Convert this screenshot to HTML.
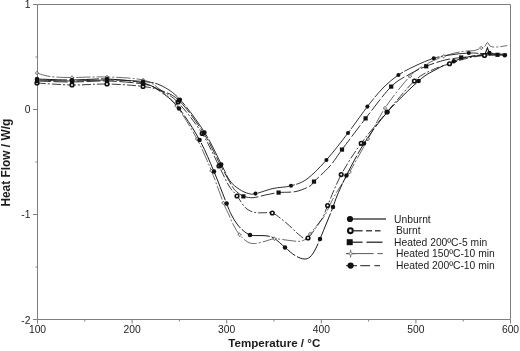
<!DOCTYPE html>
<html><head><meta charset="utf-8"><title>Heat Flow</title>
<style>
html,body{margin:0;padding:0;background:#fff;}
body{width:520px;height:351px;overflow:hidden;}
svg{display:block;font-family:"Liberation Sans",Arial,sans-serif;fill:#1c1c1c;}
</style></head><body>
<svg width="520" height="351" viewBox="0 0 520 351">
<rect width="520" height="351" fill="#fff"/>
<g>
<path d="M37.5,4.5H510.5V319.5H37.5Z" fill="none" stroke="#7f7f7f" stroke-width="1"/>
<path d="M37.5,319.5V323.5" stroke="#7f7f7f" stroke-width="1"/>
<path d="M132.1,319.5V323.5" stroke="#7f7f7f" stroke-width="1"/>
<path d="M226.7,319.5V323.5" stroke="#7f7f7f" stroke-width="1"/>
<path d="M321.3,319.5V323.5" stroke="#7f7f7f" stroke-width="1"/>
<path d="M415.9,319.5V323.5" stroke="#7f7f7f" stroke-width="1"/>
<path d="M510.5,319.5V323.5" stroke="#7f7f7f" stroke-width="1"/>
<path d="M84.8,319.5V321.5" stroke="#7f7f7f" stroke-width="1"/>
<path d="M179.4,319.5V321.5" stroke="#7f7f7f" stroke-width="1"/>
<path d="M274.0,319.5V321.5" stroke="#7f7f7f" stroke-width="1"/>
<path d="M368.6,319.5V321.5" stroke="#7f7f7f" stroke-width="1"/>
<path d="M463.2,319.5V321.5" stroke="#7f7f7f" stroke-width="1"/>
<path d="M33,4.5H37.5" stroke="#7f7f7f" stroke-width="1"/>
<path d="M33,109.5H37.5" stroke="#7f7f7f" stroke-width="1"/>
<path d="M33,214.5H37.5" stroke="#7f7f7f" stroke-width="1"/>
<path d="M33,319.5H37.5" stroke="#7f7f7f" stroke-width="1"/>
<path d="M35.5,57.0H37.5" stroke="#7f7f7f" stroke-width="1"/>
<path d="M35.5,162.0H37.5" stroke="#7f7f7f" stroke-width="1"/>
<path d="M35.5,267.0H37.5" stroke="#7f7f7f" stroke-width="1"/>
</g>
<g>
<path d="M37.0,73.0C38.3,73.4 42.0,74.8 45.0,75.5C48.0,76.2 50.5,76.7 55.0,77.0C59.5,77.3 63.3,77.5 72.0,77.5C80.7,77.5 95.2,76.6 107.0,77.0C118.8,77.4 134.2,77.9 143.0,80.0C151.8,82.1 154.4,85.2 160.0,89.5C165.6,93.8 170.3,97.8 176.5,106.0C182.7,114.2 191.2,128.2 197.0,139.0C202.8,149.8 207.1,160.3 211.5,171.0C215.9,181.7 220.6,195.7 223.5,203.0C226.4,210.3 227.2,211.2 229.0,215.0C230.8,218.8 232.2,222.7 234.0,226.0C235.8,229.3 237.2,232.0 239.5,234.7C241.8,237.4 245.0,240.5 247.7,242.0C250.3,243.5 252.3,243.7 255.4,243.5C258.4,243.3 262.8,241.8 266.0,241.0C269.2,240.2 270.8,238.9 274.6,238.8C278.4,238.7 284.9,240.0 289.0,240.4C293.1,240.8 296.2,241.6 299.0,241.4C301.8,241.2 304.2,240.2 306.0,239.0C307.8,237.8 308.0,236.5 310.0,234.0C312.0,231.5 315.5,227.2 318.0,224.0C320.5,220.8 322.2,219.8 325.0,215.0C327.8,210.2 330.9,202.2 335.0,195.0C339.1,187.8 344.1,181.3 349.6,172.0C355.1,162.7 362.1,149.7 368.0,139.0C373.9,128.3 378.0,118.5 385.0,108.0C392.0,97.5 403.3,83.4 410.0,76.2C416.7,69.1 419.4,68.3 425.0,65.0C430.6,61.7 437.6,58.5 443.8,56.2C449.9,54.0 457.0,52.4 462.0,51.5C467.0,50.6 470.7,51.1 473.8,50.6C476.9,50.1 479.0,49.0 480.8,48.3C482.6,47.6 483.7,47.5 484.8,46.5C485.9,45.5 486.5,42.6 487.4,42.5C488.3,42.4 488.6,45.2 490.0,46.0C491.4,46.8 492.9,47.2 495.8,47.1C498.7,47.0 505.4,45.9 507.3,45.6" fill="none" stroke="#1a1a1a" stroke-width="0.65" stroke-dasharray="14 2 2 2"/>
<path d="M37.0,83.0C42.8,83.3 60.3,84.8 72.0,85.0C83.7,85.2 95.2,83.8 107.0,84.0C118.8,84.2 134.0,85.3 143.0,86.5C152.0,87.7 155.2,88.3 161.0,91.0C166.8,93.7 171.1,95.4 178.0,102.5C184.9,109.6 195.4,122.9 202.2,133.5C209.0,144.1 214.5,157.2 219.0,166.0C223.5,174.8 226.0,181.0 229.0,186.0C232.0,191.0 234.3,192.2 237.0,195.8C239.7,199.4 242.5,204.9 245.4,207.7C248.3,210.5 251.7,211.6 254.6,212.4C257.5,213.2 260.1,212.7 263.0,212.8C265.9,212.9 269.3,212.1 272.3,213.0C275.3,213.9 278.0,216.4 280.8,218.5C283.6,220.6 286.5,223.1 289.2,225.5C291.9,227.9 294.6,230.9 297.0,233.0C299.4,235.1 301.7,237.2 303.5,238.0C305.3,238.8 306.1,239.5 308.0,238.0C309.9,236.5 312.5,232.5 315.0,229.0C317.5,225.5 320.9,220.9 323.0,217.0C325.1,213.1 324.6,212.7 327.6,205.6C330.6,198.5 335.6,185.0 341.2,174.6C346.8,164.2 353.6,153.7 361.2,143.3C368.8,132.9 378.1,122.4 387.0,112.0C395.9,101.6 406.9,88.0 414.4,81.0C421.9,74.0 426.1,72.9 432.0,70.0C437.9,67.1 443.5,65.8 449.5,63.8C455.5,61.8 462.2,59.4 468.0,58.0C473.8,56.6 480.0,56.0 484.5,55.5C489.0,55.0 491.2,55.1 495.0,55.0C498.8,54.9 505.0,55.0 507.0,55.0" fill="none" stroke="#1a1a1a" stroke-width="0.85" stroke-dasharray="9 2 2 2"/>
<path d="M37.0,81.0C42.8,81.2 60.3,82.0 72.0,82.0C83.7,82.0 95.2,80.7 107.0,81.0C118.8,81.3 134.2,82.5 143.0,84.0C151.8,85.5 154.0,87.2 160.0,90.0C166.0,92.8 171.7,93.3 179.0,100.5C186.3,107.7 196.7,122.2 203.6,133.0C210.5,143.8 215.7,156.2 220.4,165.0C225.1,173.8 229.2,181.5 232.0,186.0C234.8,190.5 235.1,190.3 237.0,192.0C238.9,193.7 240.7,195.2 243.4,196.2C246.1,197.1 249.3,197.9 253.0,197.7C256.7,197.5 261.1,195.8 265.4,195.0C269.7,194.2 273.5,193.2 278.6,192.6C283.7,192.0 290.8,192.6 296.0,191.5C301.2,190.4 307.0,187.7 310.0,186.0C313.0,184.3 310.7,184.9 314.0,181.6C317.3,178.3 325.3,171.3 330.0,166.0C334.7,160.7 336.1,157.5 342.0,149.6C347.9,141.7 357.4,128.9 365.6,118.4C373.8,107.9 383.8,94.0 391.2,86.6C398.6,79.2 404.2,77.4 410.0,74.0C415.8,70.6 420.4,68.6 426.2,66.2C432.1,63.9 439.0,61.5 445.0,60.0C451.0,58.5 456.2,58.2 462.0,57.5C467.8,56.8 474.1,56.0 480.0,55.5C485.9,55.0 493.0,54.9 497.5,54.8C502.0,54.7 505.4,54.8 507.0,54.8" fill="none" stroke="#1a1a1a" stroke-width="0.9" stroke-dasharray="14 2.5"/>
<path d="M37.0,79.0C42.8,79.2 60.3,80.0 72.0,80.0C83.7,80.0 95.2,78.5 107.0,79.0C118.8,79.5 134.0,80.8 143.0,83.0C152.0,85.2 155.0,87.8 161.0,92.0C167.0,96.2 172.6,100.4 179.0,108.4C185.4,116.4 193.8,129.5 199.6,140.0C205.4,150.5 209.5,161.0 214.0,171.6C218.5,182.2 223.7,196.4 226.6,203.6C229.5,210.8 229.8,211.6 231.5,215.0C233.2,218.4 235.1,221.4 237.0,224.0C238.9,226.6 240.8,228.6 243.0,230.4C245.2,232.2 247.5,234.1 250.0,235.0C252.5,235.9 255.3,235.5 258.0,235.6C260.7,235.7 263.4,235.4 266.0,235.8C268.6,236.2 270.6,236.1 273.8,238.0C277.0,239.9 281.5,244.5 285.0,247.4C288.5,250.3 291.8,253.6 295.0,255.5C298.2,257.4 301.5,258.8 304.0,259.0C306.5,259.2 308.2,258.5 310.0,257.0C311.8,255.5 313.3,253.0 315.0,250.0C316.7,247.0 318.0,243.7 320.0,239.0C322.0,234.3 324.8,227.3 327.0,222.0C329.2,216.7 331.3,211.5 333.0,207.0C334.7,202.5 335.2,200.2 337.4,195.0C339.6,189.8 342.0,184.2 346.4,175.6C350.8,167.0 357.2,154.2 364.0,143.6C370.8,133.0 378.3,122.4 387.4,112.0C396.5,101.6 410.7,88.0 418.6,81.0C426.5,74.0 429.1,73.3 435.0,70.0C440.9,66.7 447.9,63.5 453.8,61.2C459.6,59.0 465.6,57.5 470.0,56.5C474.4,55.5 476.8,55.6 480.0,55.0C483.2,54.4 486.6,53.1 489.4,53.0C492.2,52.9 494.4,54.1 497.0,54.5C499.6,54.9 503.5,55.1 504.8,55.2" fill="none" stroke="#1a1a1a" stroke-width="1" stroke-dasharray="30 2"/>
<path d="M37.0,80.0C42.8,80.2 60.3,81.0 72.0,81.0C83.7,81.0 95.2,79.9 107.0,80.0C118.8,80.1 134.0,80.6 143.0,81.5C152.0,82.4 154.8,82.5 161.0,85.5C167.2,88.5 172.7,91.7 180.0,99.5C187.3,107.3 197.7,121.6 204.6,132.4C211.5,143.2 217.2,156.3 221.4,164.4C225.6,172.5 227.0,176.9 230.0,181.0C233.0,185.1 236.1,187.1 239.2,189.2C242.3,191.3 245.8,192.8 248.5,193.5C251.2,194.2 251.4,194.5 255.5,193.7C259.6,192.9 267.1,189.8 273.0,188.5C278.9,187.2 285.3,187.4 291.0,185.8C296.7,184.2 301.1,183.3 307.0,179.0C312.9,174.7 319.6,167.7 326.4,160.0C333.2,152.3 341.2,141.9 348.0,133.0C354.8,124.1 361.6,114.1 367.4,106.6C373.2,99.1 377.8,93.3 383.0,88.0C388.2,82.7 393.1,78.7 398.4,75.0C403.7,71.3 409.1,68.8 415.0,66.0C420.9,63.2 427.9,60.1 433.8,58.2C439.6,56.4 444.2,55.9 450.0,55.0C455.8,54.1 462.1,53.2 468.8,53.0C475.4,52.8 483.6,53.8 490.0,54.0C496.4,54.2 504.2,54.0 507.0,54.0" fill="none" stroke="#1a1a1a" stroke-width="0.9" stroke-dasharray="38 1.5"/>
<path d="M484.8,54.8L487.4,47.7L489.4,52.9" fill="none" stroke="#1a1a1a" stroke-width="1.1"/>
<path d="M35.0,73.0L36.4,72.4L37.0,71.0L37.6,72.4L39.0,73.0L37.6,73.6L37.0,75.0L36.4,73.6Z" fill="#fff" stroke="#333" stroke-width="0.5"/>
<path d="M70.0,77.5L71.4,76.9L72.0,75.5L72.6,76.9L74.0,77.5L72.6,78.1L72.0,79.5L71.4,78.1Z" fill="#fff" stroke="#333" stroke-width="0.5"/>
<path d="M105.0,77.0L106.4,76.4L107.0,75.0L107.6,76.4L109.0,77.0L107.6,77.6L107.0,79.0L106.4,77.6Z" fill="#fff" stroke="#333" stroke-width="0.5"/>
<path d="M141.0,80.0L142.4,79.4L143.0,78.0L143.6,79.4L145.0,80.0L143.6,80.6L143.0,82.0L142.4,80.6Z" fill="#fff" stroke="#333" stroke-width="0.5"/>
<path d="M174.5,106.0L175.9,105.4L176.5,104.0L177.1,105.4L178.5,106.0L177.1,106.6L176.5,108.0L175.9,106.6Z" fill="#fff" stroke="#333" stroke-width="0.5"/>
<path d="M195.0,139.0L196.4,138.4L197.0,137.0L197.6,138.4L199.0,139.0L197.6,139.6L197.0,141.0L196.4,139.6Z" fill="#fff" stroke="#333" stroke-width="0.5"/>
<path d="M209.5,171.0L210.9,170.4L211.5,169.0L212.1,170.4L213.5,171.0L212.1,171.6L211.5,173.0L210.9,171.6Z" fill="#fff" stroke="#333" stroke-width="0.5"/>
<path d="M221.5,203.0L222.9,202.4L223.5,201.0L224.1,202.4L225.5,203.0L224.1,203.6L223.5,205.0L222.9,203.6Z" fill="#fff" stroke="#333" stroke-width="0.5"/>
<path d="M237.5,234.7L238.9,234.1L239.5,232.7L240.1,234.1L241.5,234.7L240.1,235.3L239.5,236.7L238.9,235.3Z" fill="#fff" stroke="#333" stroke-width="0.5"/>
<path d="M272.6,238.8L274.0,238.2L274.6,236.8L275.2,238.2L276.6,238.8L275.2,239.4L274.6,240.8L274.0,239.4Z" fill="#fff" stroke="#333" stroke-width="0.5"/>
<path d="M308.0,234.0L309.4,233.4L310.0,232.0L310.6,233.4L312.0,234.0L310.6,234.6L310.0,236.0L309.4,234.6Z" fill="#fff" stroke="#333" stroke-width="0.5"/>
<path d="M347.6,172.0L349.0,171.4L349.6,170.0L350.2,171.4L351.6,172.0L350.2,172.6L349.6,174.0L349.0,172.6Z" fill="#fff" stroke="#333" stroke-width="0.5"/>
<path d="M366.0,139.0L367.4,138.4L368.0,137.0L368.6,138.4L370.0,139.0L368.6,139.6L368.0,141.0L367.4,139.6Z" fill="#fff" stroke="#333" stroke-width="0.5"/>
<path d="M383.0,108.0L384.4,107.4L385.0,106.0L385.6,107.4L387.0,108.0L385.6,108.6L385.0,110.0L384.4,108.6Z" fill="#fff" stroke="#333" stroke-width="0.5"/>
<path d="M408.0,76.2L409.4,75.7L410.0,74.2L410.6,75.7L412.0,76.2L410.6,76.8L410.0,78.2L409.4,76.8Z" fill="#fff" stroke="#333" stroke-width="0.5"/>
<path d="M441.8,56.2L443.1,55.6L443.8,54.2L444.4,55.6L445.8,56.2L444.4,56.9L443.8,58.2L443.1,56.9Z" fill="#fff" stroke="#333" stroke-width="0.5"/>
<path d="M479.2,48.0L480.6,47.4L481.2,46.0L481.9,47.4L483.2,48.0L481.9,48.6L481.2,50.0L480.6,48.6Z" fill="#fff" stroke="#333" stroke-width="0.5"/>
<circle cx="37" cy="83" r="1.8" fill="#fff" stroke="#111" stroke-width="1.6"/>
<circle cx="72" cy="85" r="1.8" fill="#fff" stroke="#111" stroke-width="1.6"/>
<circle cx="107" cy="84" r="1.8" fill="#fff" stroke="#111" stroke-width="1.6"/>
<circle cx="143" cy="86.5" r="1.8" fill="#fff" stroke="#111" stroke-width="1.6"/>
<circle cx="178" cy="102" r="1.8" fill="#fff" stroke="#111" stroke-width="1.6"/>
<circle cx="202.2" cy="133.5" r="1.8" fill="#fff" stroke="#111" stroke-width="1.6"/>
<circle cx="219" cy="166" r="1.8" fill="#fff" stroke="#111" stroke-width="1.6"/>
<circle cx="237" cy="196" r="1.8" fill="#fff" stroke="#111" stroke-width="1.6"/>
<circle cx="272.3" cy="213" r="1.8" fill="#fff" stroke="#111" stroke-width="1.6"/>
<circle cx="308" cy="238" r="1.8" fill="#fff" stroke="#111" stroke-width="1.6"/>
<circle cx="327.6" cy="205.6" r="1.8" fill="#fff" stroke="#111" stroke-width="1.6"/>
<circle cx="341.2" cy="174.6" r="1.8" fill="#fff" stroke="#111" stroke-width="1.6"/>
<circle cx="361.2" cy="143.3" r="1.8" fill="#fff" stroke="#111" stroke-width="1.6"/>
<circle cx="387" cy="112" r="1.8" fill="#fff" stroke="#111" stroke-width="1.6"/>
<circle cx="414.4" cy="81" r="1.8" fill="#fff" stroke="#111" stroke-width="1.6"/>
<circle cx="449.5" cy="63.75" r="1.8" fill="#fff" stroke="#111" stroke-width="1.6"/>
<circle cx="484.5" cy="55.5" r="1.8" fill="#fff" stroke="#111" stroke-width="1.6"/>
<rect x="34.9" y="78.9" width="4.2" height="4.2" fill="#111"/>
<rect x="69.9" y="79.9" width="4.2" height="4.2" fill="#111"/>
<rect x="104.9" y="78.9" width="4.2" height="4.2" fill="#111"/>
<rect x="140.9" y="81.9" width="4.2" height="4.2" fill="#111"/>
<rect x="176.9" y="98.4" width="4.2" height="4.2" fill="#111"/>
<rect x="201.5" y="130.9" width="4.2" height="4.2" fill="#111"/>
<rect x="218.3" y="162.9" width="4.2" height="4.2" fill="#111"/>
<rect x="241.3" y="194.3" width="4.2" height="4.2" fill="#111"/>
<rect x="276.5" y="190.5" width="4.2" height="4.2" fill="#111"/>
<rect x="311.9" y="179.5" width="4.2" height="4.2" fill="#111"/>
<rect x="339.9" y="147.5" width="4.2" height="4.2" fill="#111"/>
<rect x="363.5" y="116.3" width="4.2" height="4.2" fill="#111"/>
<rect x="389.1" y="84.5" width="4.2" height="4.2" fill="#111"/>
<rect x="424.1" y="64.2" width="4.2" height="4.2" fill="#111"/>
<rect x="459.1" y="55.4" width="4.2" height="4.2" fill="#111"/>
<rect x="495.4" y="52.7" width="4.2" height="4.2" fill="#111"/>
<circle cx="37" cy="80" r="2.05" fill="#111"/>
<circle cx="72" cy="81" r="2.05" fill="#111"/>
<circle cx="107" cy="80" r="2.05" fill="#111"/>
<circle cx="143" cy="81.5" r="2.05" fill="#111"/>
<circle cx="180" cy="99.5" r="2.05" fill="#111"/>
<circle cx="204.6" cy="132.4" r="2.05" fill="#111"/>
<circle cx="221.4" cy="164.4" r="2.05" fill="#111"/>
<circle cx="255.5" cy="193.6" r="2.05" fill="#111"/>
<circle cx="291" cy="185.8" r="2.05" fill="#111"/>
<circle cx="326.4" cy="160" r="2.05" fill="#111"/>
<circle cx="348" cy="133" r="2.05" fill="#111"/>
<circle cx="367.4" cy="106.6" r="2.05" fill="#111"/>
<circle cx="398.4" cy="75" r="2.05" fill="#111"/>
<circle cx="433.75" cy="58.25" r="2.05" fill="#111"/>
<circle cx="468.75" cy="53" r="2.05" fill="#111"/>
<circle cx="37" cy="79" r="2.25" fill="#111"/>
<circle cx="72" cy="80" r="2.25" fill="#111"/>
<circle cx="107" cy="79" r="2.25" fill="#111"/>
<circle cx="143" cy="83" r="2.25" fill="#111"/>
<circle cx="179" cy="108.4" r="2.25" fill="#111"/>
<circle cx="199.6" cy="140" r="2.25" fill="#111"/>
<circle cx="214" cy="171.6" r="2.25" fill="#111"/>
<circle cx="226.6" cy="203.6" r="2.25" fill="#111"/>
<circle cx="250" cy="235" r="2.25" fill="#111"/>
<circle cx="285" cy="247.4" r="2.25" fill="#111"/>
<circle cx="320" cy="239" r="2.25" fill="#111"/>
<circle cx="333" cy="207" r="2.25" fill="#111"/>
<circle cx="346.4" cy="175.6" r="2.25" fill="#111"/>
<circle cx="364" cy="143.6" r="2.25" fill="#111"/>
<circle cx="387.4" cy="112" r="2.25" fill="#111"/>
<circle cx="418.6" cy="81" r="2.25" fill="#111"/>
<circle cx="453.75" cy="61.25" r="2.25" fill="#111"/>
<circle cx="489.4" cy="53" r="2.25" fill="#111"/>
<circle cx="504.8" cy="55.2" r="2.25" fill="#111"/>
</g>
<g>
<text x="37.5" y="333" text-anchor="middle" font-size="10.3">100</text>
<text x="132.1" y="333" text-anchor="middle" font-size="10.3">200</text>
<text x="226.7" y="333" text-anchor="middle" font-size="10.3">300</text>
<text x="321.3" y="333" text-anchor="middle" font-size="10.3">400</text>
<text x="415.9" y="333" text-anchor="middle" font-size="10.3">500</text>
<text x="510.5" y="333" text-anchor="middle" font-size="10.3">600</text>
<text x="30.4" y="8.2" text-anchor="end" font-size="10.3">1</text>
<text x="30.4" y="113.2" text-anchor="end" font-size="10.3">0</text>
<text x="30.4" y="218.2" text-anchor="end" font-size="10.3">-1</text>
<text x="30.4" y="323.9" text-anchor="end" font-size="10.3">-2</text>
<text x="274.3" y="347" text-anchor="middle" font-size="11.6" font-weight="bold">Temperature / °C</text>
<text transform="translate(9.7,162.7) rotate(-90)" text-anchor="middle" font-size="11.9" font-weight="bold">Heat Flow / W/g</text>
<path d="M350,219H386" stroke="#474747" stroke-width="1.4"/><circle cx="350" cy="219" r="3.1" fill="#111"/>
<path d="M354,230.7H362.6M366,230.7H372M375,230.7H380.5" stroke="#474747" stroke-width="1.4"/><circle cx="350.4" cy="230.7" r="2.4" fill="#fff" stroke="#111" stroke-width="2.1"/>
<path d="M352,242.2H362.6M366.5,242.2H382.5" stroke="#474747" stroke-width="1.4"/><rect x="346.7" y="239.2" width="6" height="6" fill="#111"/>
<path d="M346,253.6H373.6M377.5,253.6H383" stroke="#474747" stroke-width="0.9"/><path d="M346.8,253.6L350.0,253.0L350.6,249.8L351.2,253.0L354.4,253.6L351.2,254.2L350.6,257.4L350.0,254.2Z" fill="#fff" stroke="#333" stroke-width="0.5"/>
<path d="M346,265.6H357M360.3,265.6H370M374.5,265.6H380" stroke="#474747" stroke-width="1.4"/><circle cx="350.6" cy="265.6" r="3.1" fill="#111"/>
<text x="394.1" y="222.6" font-size="10.3">Unburnt</text>
<text x="396" y="234.3" font-size="10.3">Burnt</text>
<text x="394.1" y="245.8" font-size="10.3">Heated 200ºC-5 min</text>
<text x="396" y="257.2" font-size="10.3">Heated 150ºC-10 min</text>
<text x="396" y="269.2" font-size="10.3">Heated 200ºC-10 min</text>
</g>
</svg>
</body></html>
